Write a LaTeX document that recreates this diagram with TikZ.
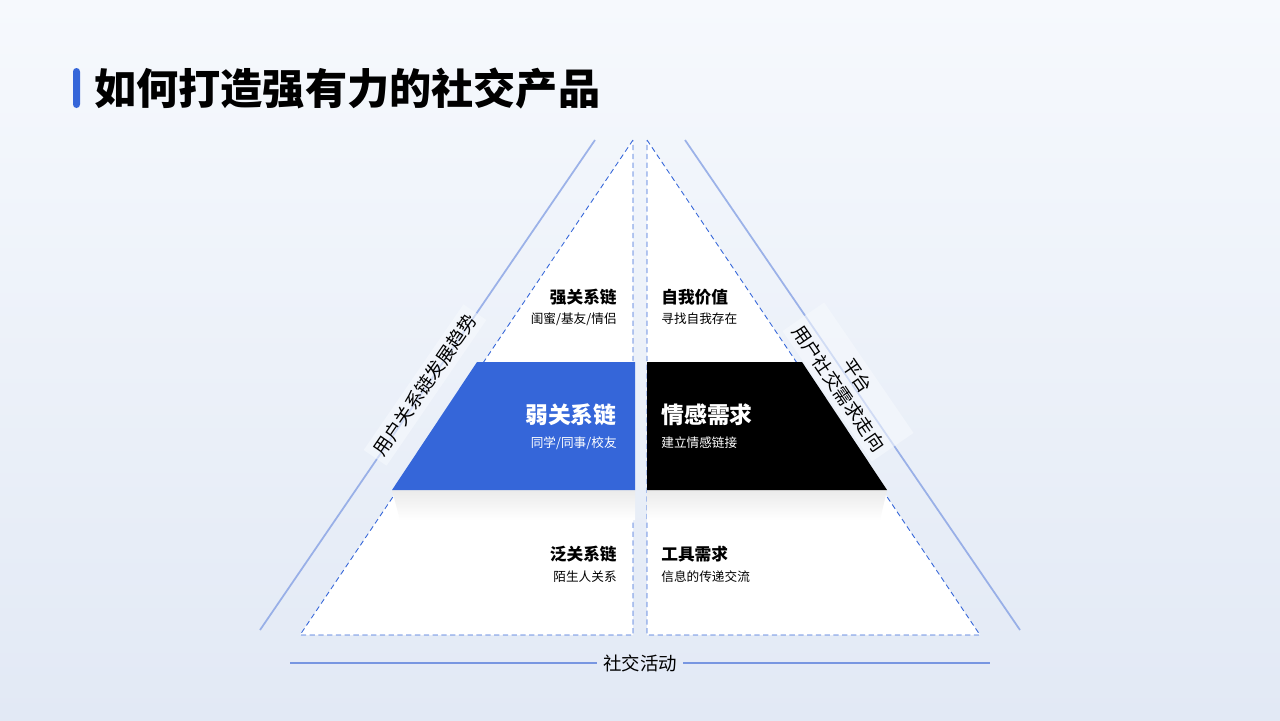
\documentclass[tikz,border=0pt]{standalone}
\usepackage{fontspec}
\setmainfont{Noto Sans CJK SC}
\usetikzlibrary{positioning}
\definecolor{brandblue}{RGB}{53,102,217}
\definecolor{edgeblue}{RGB}{120,150,225}
\definecolor{bgtop}{RGB}{246,249,253}
\definecolor{bgbot}{RGB}{226,233,245}
\tikzset{
  pyr/.style={fill=white, draw=brandblue, densely dashed, line width=0.5pt},
  head/.style={inner sep=0pt, font=\bfseries\fontsize{9.5}{11}\selectfont},
  sub/.style={inner sep=0pt, font=\fontsize{7.2}{9}\selectfont},
  big/.style={inner sep=0pt, font=\bfseries\fontsize{13}{15}\selectfont, text=white},
  side/.style={font=\fontsize{10.5}{13}\selectfont, align=center, fill=bgtop, fill opacity=0.6, text opacity=1, inner sep=3pt}
}
\begin{document}
\begin{tikzpicture}[x=0.02cm,y=-0.02cm]
\useasboundingbox (0,0) rectangle (1280,720);
% background
\shade[top color=bgtop, bottom color=bgbot] (0,0) rectangle (1280,720);

% title
\fill[brandblue, rounded corners=2pt] (73,68) rectangle (80,108);
\node[anchor=west, font=\bfseries\fontsize{24}{28}\selectfont] (title) at (88,88) {如何打造强有力的社交产品};

% outer guide lines
\coordinate (lt) at (595,140);
\coordinate (lb) at (260,630);
\coordinate (rt) at (685,140);
\coordinate (rb) at (1020,630);
\draw[edgeblue, line width=1pt, opacity=0.7] (lt) -- (lb);
\draw[edgeblue, line width=1pt, opacity=0.7] (rt) -- (rb);

% the two halves
\coordinate (a1) at (633,140);
\coordinate (b1) at (300,635);
\coordinate (c1) at (633,635);
\coordinate (a2) at (647,140);
\coordinate (b2) at (980,635);
\coordinate (c2) at (647,635);
\draw[pyr] (a1) -- (b1) -- (c1) -- cycle;
\draw[pyr] (a2) -- (b2) -- (c2) -- cycle;

% soft shadows under the bands
\shade[top color=black!8, bottom color=white] (392,490) -- (635,490) -- (635,520) -- (400,520) -- cycle;
\shade[top color=black!8, bottom color=white] (647,490) -- (887,490) -- (880,520) -- (647,520) -- cycle;

% middle bands
\fill[brandblue] (477,362) -- (635,362) -- (635,490) -- (392,490) -- cycle;
\fill[black] (647,362) -- (802,362) -- (887,490) -- (647,490) -- cycle;

% left texts
\node[head, anchor=east] (strong) at (617,297) {强关系链};
\node[sub, anchor=east] (strongs) at (617,319) {闺蜜/基友/情侣};
\node[big, anchor=east] (weak) at (617,415) {弱关系链};
\node[sub, anchor=east, text=white] (weaks) at (617,443) {同学/同事/校友};
\node[head, anchor=east] (wide) at (617,554) {泛关系链};
\node[sub, anchor=east] (wides) at (617,577) {陌生人关系};

% right texts
\node[head, anchor=west] (self) at (661,297) {自我价值};
\node[sub, anchor=west] (selfs) at (661,319) {寻找自我存在};
\node[big, anchor=west] (emo) at (661,415) {情感需求};
\node[sub, anchor=west, text=white] (emos) at (661,443) {建立情感链接};
\node[head, anchor=west] (tool) at (661,554) {工具需求};
\node[sub, anchor=west] (tools) at (661,577) {信息的传递交流};

% side labels
\node[side, rotate=55.6] (trend) at (425,385) {用户关系链发展趋势};
\node[side, rotate=-55.6] (need) at (848,382) {平台\\用户社交需求走向};

% bottom axis
\node[font=\fontsize{10.5}{13}\selectfont] (act) at (640,663) {社交活动};
\coordinate (bl) at (290,663);
\coordinate (br) at (990,663);
\draw[edgeblue, line width=1pt] (bl) -- (act.west);
\draw[edgeblue, line width=1pt] (act.east) -- (br);
\end{tikzpicture}
\end{document}
